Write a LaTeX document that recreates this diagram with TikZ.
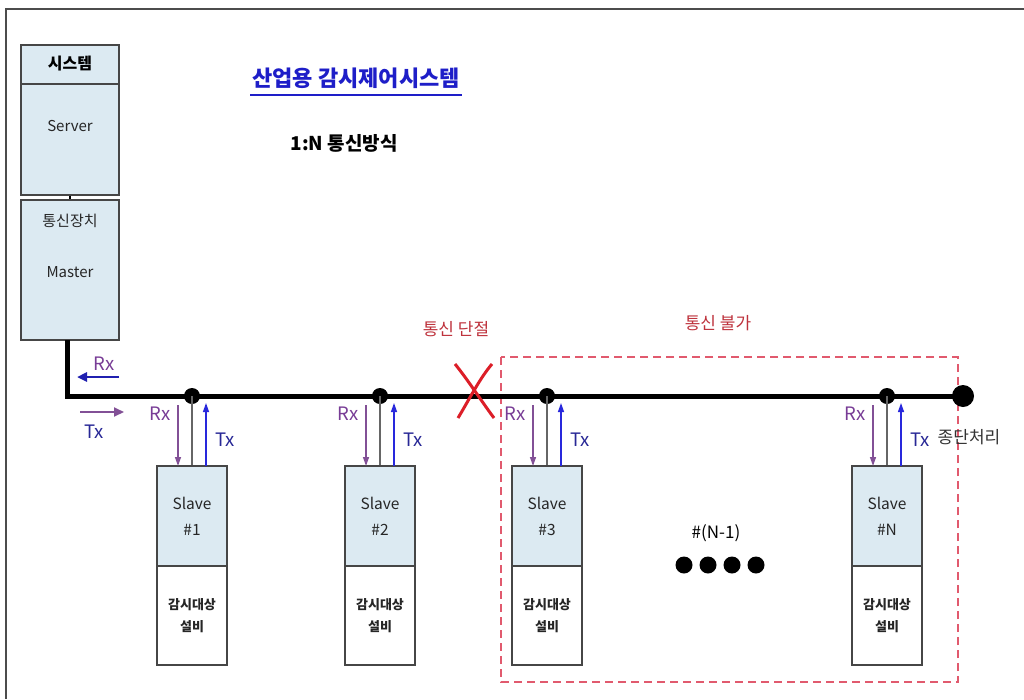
\documentclass[tikz,border=0pt]{standalone}
\usepackage{fontspec}
\setmainfont{Noto Sans CJK KR}
\usetikzlibrary{arrows.meta}
\definecolor{boxfill}{RGB}{220,234,242}
\definecolor{boxline}{RGB}{70,70,70}
\definecolor{rxcol}{RGB}{120,60,150}
\definecolor{txcol}{RGB}{40,40,150}
\definecolor{arrblue}{RGB}{40,40,220}
\definecolor{arrpurple}{RGB}{130,80,150}
\definecolor{redtxt}{RGB}{190,50,60}
\definecolor{redx}{RGB}{220,30,40}
\definecolor{dashred}{RGB}{225,90,110}
\definecolor{titleblue}{RGB}{30,30,200}
\tikzset{
  bluebox/.style={draw=boxline,line width=1.4pt,fill=boxfill,inner sep=0pt,minimum width=#1},
  whitebox/.style={draw=boxline,line width=1.4pt,fill=white,inner sep=0pt,minimum width=#1},
  lbl/.style={inner sep=0pt,font=\fontsize{15}{17}\selectfont,text=black!85},
  smalllbl/.style={inner sep=0pt,font=\fontsize{13}{16}\selectfont\bfseries,text=black!85,align=center},
  rxlbl/.style={inner sep=0pt,font=\fontsize{18.5}{20}\selectfont,text=rxcol},
  txlbl/.style={inner sep=0pt,font=\fontsize{18.5}{20}\selectfont,text=txcol},
  junction/.style={circle,fill=black,inner sep=0pt,minimum size=16pt},
  bus/.style={line width=5pt,black},
  drop/.style={line width=1.3pt,black!60},
  rxarr/.style={line width=1.3pt,arrpurple,-{Triangle[length=9pt,width=6pt]}},
  txarr/.style={line width=1.3pt,arrblue,-{Triangle[length=9pt,width=6pt]}},
  redlbl/.style={inner sep=0pt,font=\fontsize{17}{19}\selectfont,text=redtxt},
}
\begin{document}
\begin{tikzpicture}[x=1pt,y=-1pt]
\useasboundingbox (0,0) rectangle (1024,699);
\fill[white] (0,0) rectangle (1024,699);
% outer frame (top and left edges)
\coordinate (ftr) at (1024,9);
\coordinate (ftl) at (6,9);
\coordinate (fbl) at (6,699);
\draw[line width=1.5pt,black!70] (ftr) -- (ftl) -- (fbl);

% title
\node[inner sep=0pt,font=\fontsize{22}{24}\selectfont\bfseries,text=titleblue] (title) at (356,78) {산업용 감시제어시스템};
\coordinate (ulA) at (250,95);
\coordinate (ulB) at (462,95);
\draw[titleblue,line width=1.3pt] (ulA) -- (ulB);
\node[inner sep=0pt,font=\fontsize{19}{21}\selectfont\bfseries] (mode) at (344,143) {1:N 통신방식};

% unreachable region (drawn first so it lies beneath)
\node[redlbl] (na) at (718,323) {통신 불가};
\coordinate (dA) at (501,357);
\coordinate (dB) at (958,682);
\draw[dashred,line width=1.3pt,dash pattern=on 8pt off 5pt] (dA) rectangle (dB);

% server / master
\node[bluebox=98pt,minimum height=39pt] (hdr) at (70,64.5) {};
\node[inner sep=0pt,font=\fontsize{16}{18}\selectfont\bfseries] (hdrt) at (70,64) {시스템};
\node[bluebox=98pt,minimum height=111pt] (srv) at (70,139.5) {};
\node[lbl] (srvt) at (70,126) {Server};
\node[bluebox=98pt,minimum height=140pt] (mst) at (70,270) {};
\node[lbl] (mstt1) at (70,221) {통신장치};
\node[lbl] (mstt2) at (70,272) {Master};
\draw[line width=2pt,black] (srv.south) -- (mst.north);

% bus
\coordinate (mb) at (67,340);
\coordinate (bc) at (67,396);
\node[circle,fill=black,inner sep=0pt,minimum size=22pt] (term) at (963,396) {};
\draw[bus] (mb) -- (bc) -- (term.center);

% master Rx / Tx
\coordinate (mrxA) at (119,377);
\coordinate (mrxB) at (77,377);
\draw[line width=2.5pt,arrblue!80!black,-{Triangle[length=10pt,width=9pt]}] (mrxA) -- (mrxB);
\node[rxlbl] (mrx) at (104,364) {Rx};
\coordinate (mtxA) at (80,412);
\coordinate (mtxB) at (124,412);
\draw[line width=2pt,arrpurple,-{Triangle[length=10pt,width=9pt]}] (mtxA) -- (mtxB);
\node[txlbl] (mtx) at (94,432) {Tx};

% slaves
\foreach \i/\cx/\nm in {1/192/\#1, 2/380/\#2, 3/547/\#3, N/887/\#N}{
  \node[junction] (j\i) at (\cx,396) {};
  \node[bluebox=70pt,minimum height=100pt] (s\i) at (\cx,516) {};
  \node[whitebox=70pt,minimum height=99pt] (e\i) at (\cx,615.5) {};
  \node[lbl,align=center,font=\fontsize{15.5}{26}\selectfont] (st\i) at (\cx,516) {Slave\\\nm};
  \node[smalllbl,font=\fontsize{13}{22}\selectfont\bfseries] (et\i) at (\cx,616) {감시대상\\설비};
  \draw[drop] (j\i.center) -- (s\i.north);
  \coordinate (rxa\i) at (\cx-14,405);
  \coordinate (rxb\i) at (\cx-14,466);
  \coordinate (txa\i) at (\cx+14,466);
  \coordinate (txb\i) at (\cx+14,403);
  \draw[rxarr] (rxa\i) -- (rxb\i);
  \draw[txarr] (txa\i) -- (txb\i);
  \node[rxlbl] (rl\i) at (\cx-32,414) {Rx};
  \node[txlbl] (tl\i) at (\cx+33,440) {Tx};
}
\node[inner sep=0pt,font=\fontsize{17}{19}\selectfont,text=black!80] (termt) at (969,437) {종단처리};

% break
\node[redlbl] (brk) at (456,329) {통신 단절};
\coordinate (xa) at (455,364);
\coordinate (xb) at (494,418);
\coordinate (xc) at (492,364);
\coordinate (xd) at (458,418);
\draw[redx,line width=3pt] (xc) .. controls (480,378) and (470,398) .. (xd);
\draw[redx,line width=3pt] (xa) .. controls (468,380) and (482,402) .. (xb);

% more slaves
\node[inner sep=0pt,font=\fontsize{17}{19}\selectfont] (nm1) at (716,533) {\#(N-1)};
\foreach \k/\dx in {1/684,2/708,3/732,4/756}{
  \node[circle,fill=black,inner sep=0pt,minimum width=14pt,minimum height=17pt] (dot\k) at (\dx,565) {};
}
\end{tikzpicture}
\end{document}
